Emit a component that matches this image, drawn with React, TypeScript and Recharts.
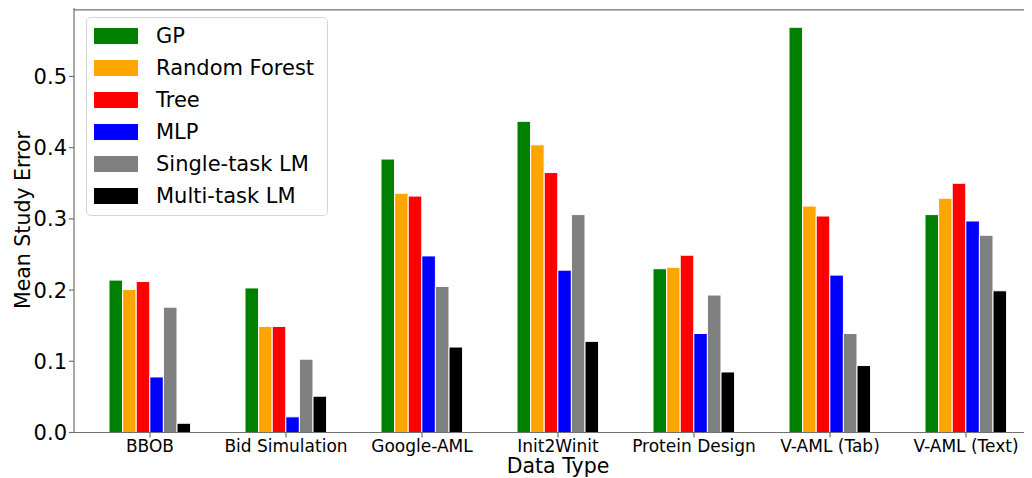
import React from 'react';
import { BarChart, Bar, XAxis, YAxis, Legend, Label, ReferenceLine, CartesianGrid } from 'recharts';

const categories = ['BBOB', 'Bid Simulation', 'Google-AML', 'Init2Winit', 'Protein Design', 'V-AML (Tab)', 'V-AML (Text)'];
const gp = [0.214, 0.203, 0.384, 0.437, 0.230, 0.569, 0.306];
const randomForest = [0.201, 0.149, 0.336, 0.404, 0.232, 0.318, 0.329];
const tree = [0.212, 0.149, 0.332, 0.365, 0.249, 0.304, 0.350];
const mlp = [0.078, 0.022, 0.248, 0.228, 0.139, 0.221, 0.297];
const singleTaskLM = [0.176, 0.103, 0.205, 0.306, 0.193, 0.139, 0.277];
const multiTaskLM = [0.013, 0.051, 0.120, 0.128, 0.085, 0.094, 0.199];
const yTicks = [0, 0.1, 0.2, 0.3, 0.4, 0.5];
const seriesNames = ['GP', 'Random Forest', 'Tree', 'MLP', 'Single-task LM', 'Multi-task LM'];
const seriesKeys = ['gp', 'rf', 'tree', 'mlp', 'single', 'multi'];
const seriesColors = ['#008000', '#FFA500', '#FF0000', '#0000FF', '#808080', '#000000'];
const xLabel = 'Data Type';
const yLabel = 'Mean Study Error';
const yMax = 0.5975;

const seriesValues = [gp, randomForest, tree, mlp, singleTaskLM, multiTaskLM];
const data = categories.map((c, i) => {
  const row: Record<string, string | number> = { category: c };
  seriesKeys.forEach((k, j) => {
    row[k] = seriesValues[j][i];
  });
  return row;
});

const FONT = '"DejaVu Sans", sans-serif';
const SPINE = '#707070';

const LegendBox = () => (
  <div
    style={{
      position: 'relative',
      width: 242,
      height: 199,
      boxSizing: 'border-box',
      border: '1px solid #d6d6d6',
      borderRadius: 5,
      background: 'rgba(255,255,255,0.85)',
      fontFamily: FONT,
      fontSize: 21,
      color: '#000',
    }}
  >
    {seriesNames.map((n, i) => (
      <div key={n}>
        <div
          style={{
            position: 'absolute',
            left: 7,
            top: 10 + i * 32,
            width: 44,
            height: 16,
            background: seriesColors[i],
          }}
        />
        <div
          style={{
            position: 'absolute',
            left: 69,
            top: 18 + i * 32 - 13,
            lineHeight: '26px',
            whiteSpace: 'nowrap',
          }}
        >
          {n}
        </div>
      </div>
    ))}
  </div>
);

export default function App() {
  return (
    <div style={{ position: 'relative', left: -8, top: 0, width: 1032, height: 478, overflow: 'hidden', background: '#fff', marginTop: -8 }}>
      <BarChart
        width={1042}
        height={478}
        data={data}
        margin={{ top: 7, right: 0, bottom: 0, left: 0 }}
        barSize={13.6}
        barGap={0}
      >
        <CartesianGrid
          vertical={false}
          horizontalValues={[yMax]}
          stroke={SPINE}
          strokeWidth={1.2}
          strokeDasharray="0"
        />
        <XAxis
          dataKey="category"
          height={45.5}
          padding={{ left: 8, right: 8 }}
          tickSize={5}
          tickMargin={2}
          axisLine={{ stroke: SPINE, strokeWidth: 1.2 }}
          tickLine={{ stroke: SPINE, strokeWidth: 1.2 }}
          tick={{ fill: '#000', fontSize: 17, fontFamily: FONT }}
          interval={0}
        >
          <Label
            content={() => (
              <text x={558} y={473} textAnchor="middle" fontSize={20.5} fontFamily={FONT} fill="#000">
                {xLabel}
              </text>
            )}
          />
        </XAxis>
        <YAxis
          width={74}
          domain={[0, yMax]}
          ticks={yTicks}
          allowDataOverflow
          tickFormatter={(v: number) => v.toFixed(1)}
          tickSize={5}
          tickMargin={2}
          axisLine={{ stroke: SPINE, strokeWidth: 1.2 }}
          tickLine={{ stroke: SPINE, strokeWidth: 1.2 }}
          tick={{ fill: '#000', fontSize: 21, fontFamily: FONT }}
        >
          <Label
            content={() => (
              <text
                x={30}
                y={220}
                transform="rotate(-90,30,220)"
                textAnchor="middle"
                fontSize={20.5}
                fontFamily={FONT}
                fill="#000"
              >
                {yLabel}
              </text>
            )}
          />
        </YAxis>
        <ReferenceLine y={0.5935} stroke={SPINE} strokeWidth={1.2} ifOverflow="visible" />
        <Legend
          layout="vertical"
          align="center"
          verticalAlign="middle"
          wrapperStyle={{ left: 86, top: 17, width: 242, height: 199 }}
          content={() => <LegendBox />}
        />
        {seriesKeys.map((k, i) => (
          <Bar
            key={k}
            dataKey={k}
            name={seriesNames[i]}
            fill={seriesColors[i]}
            stroke="#ffffff"
            strokeWidth={1}
            isAnimationActive={false}
          />
        ))}
      </BarChart>
    </div>
  );
}
